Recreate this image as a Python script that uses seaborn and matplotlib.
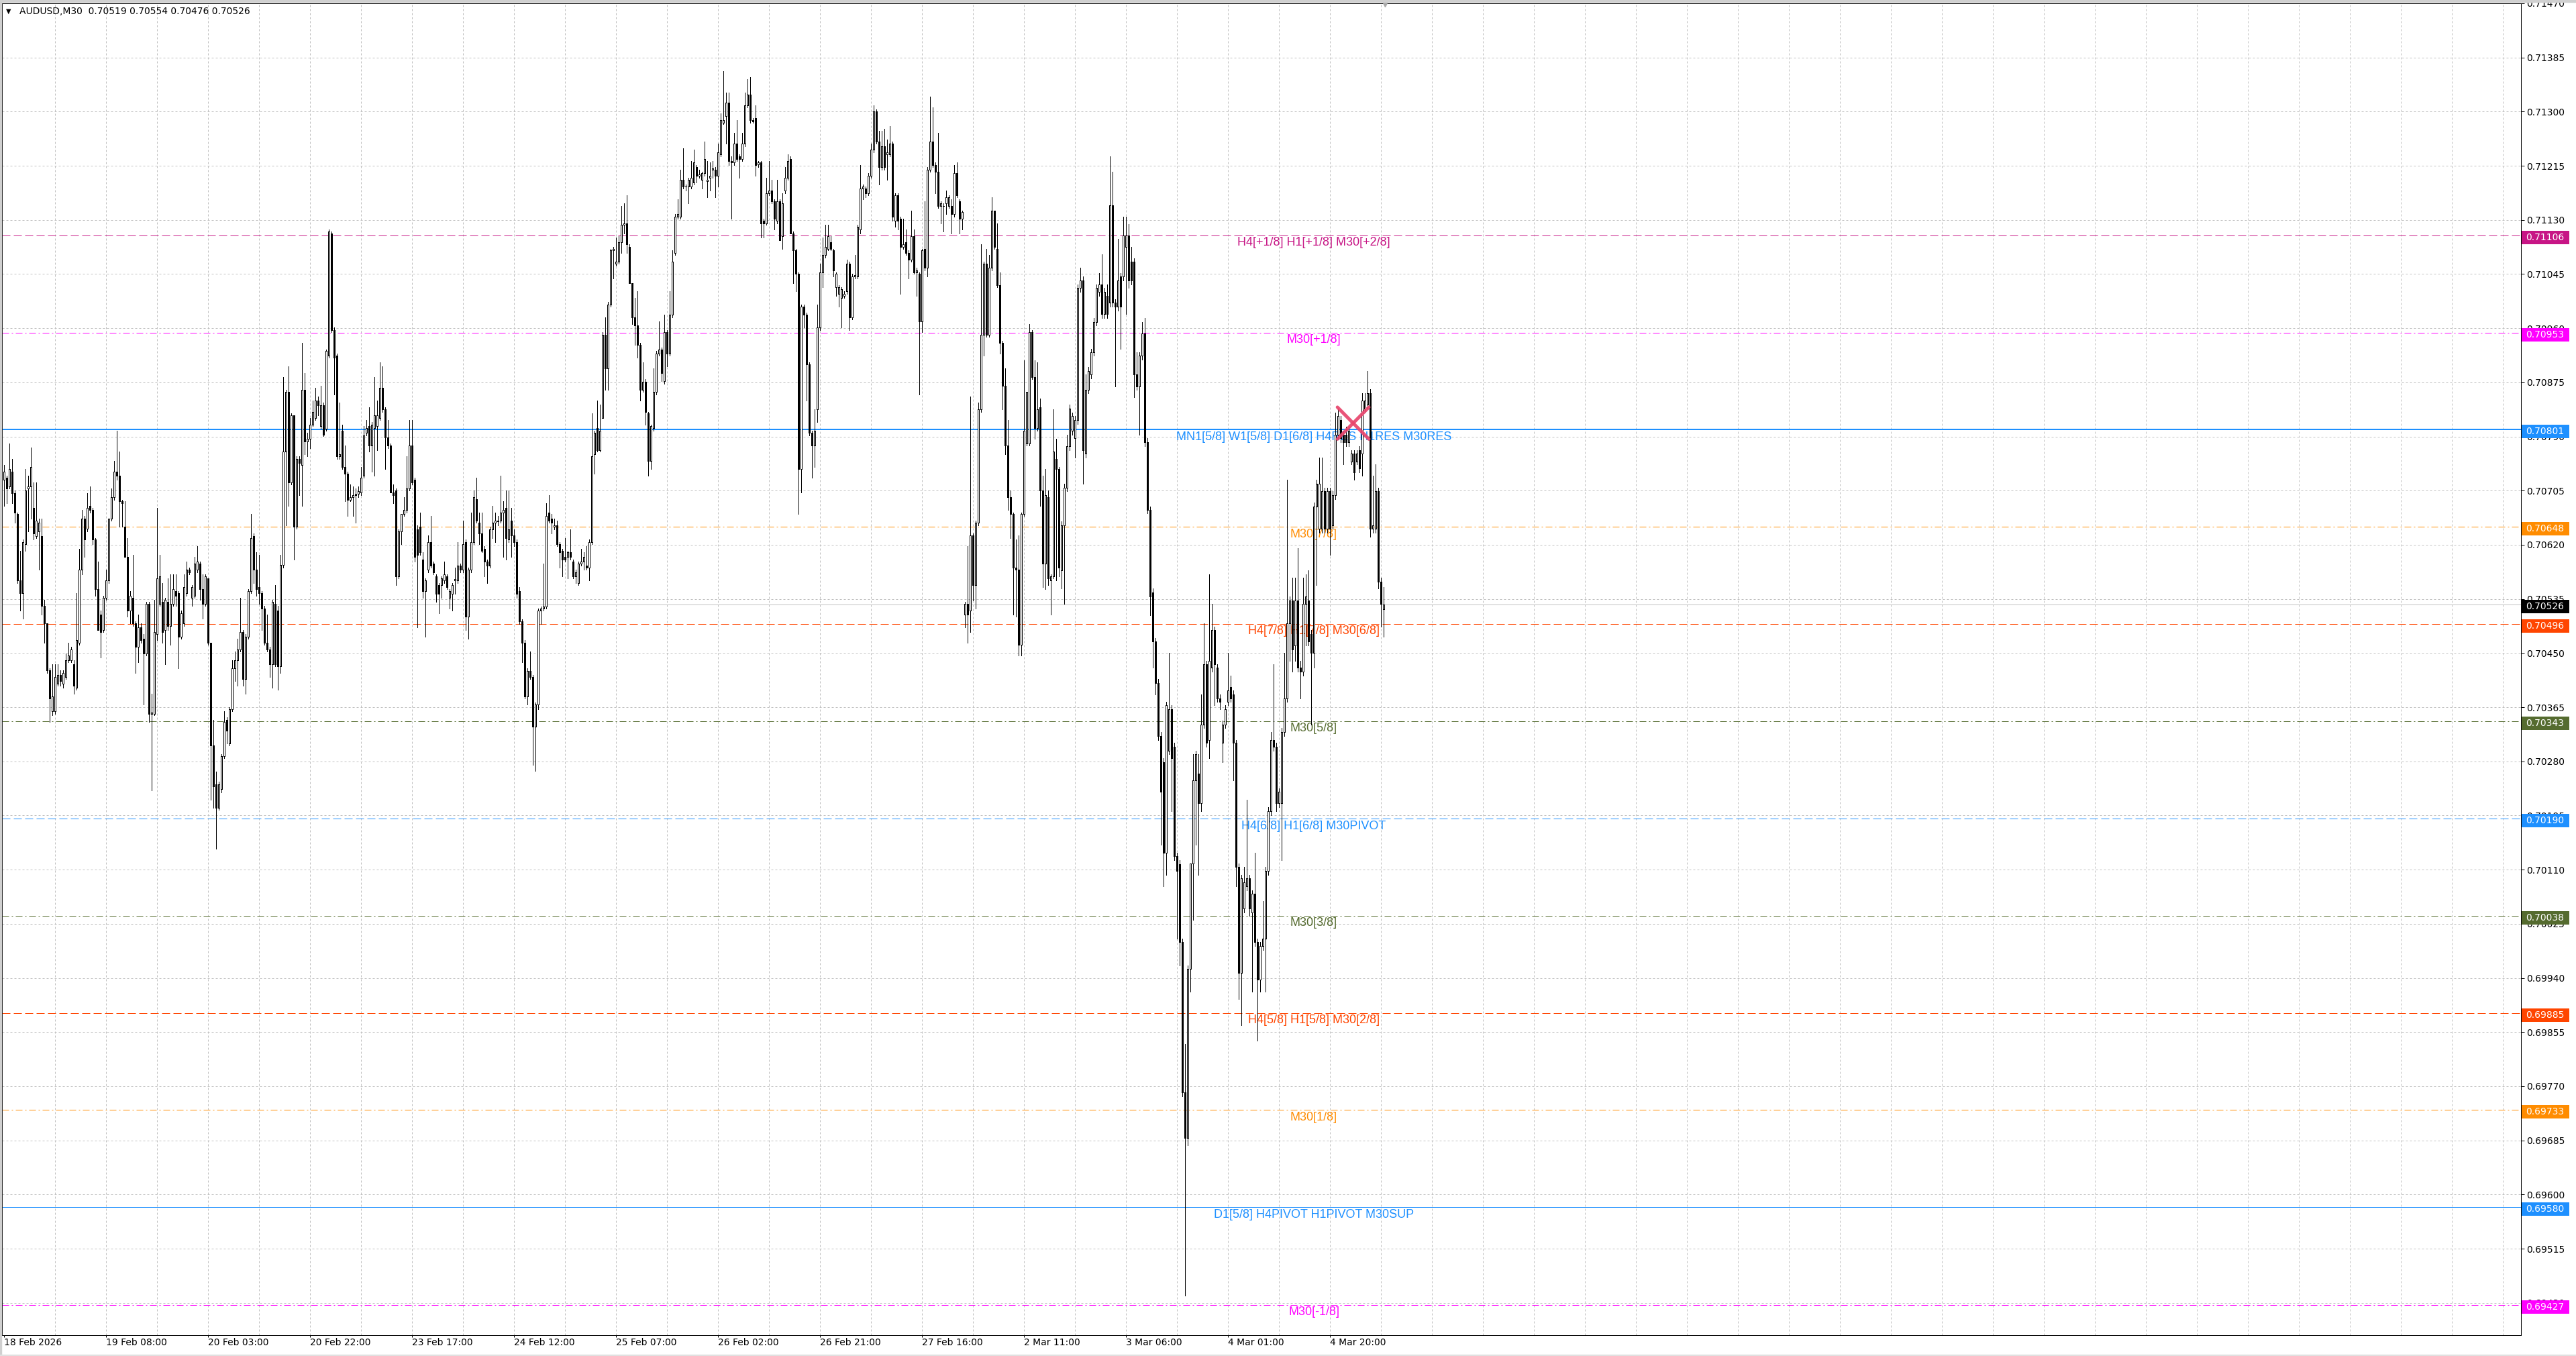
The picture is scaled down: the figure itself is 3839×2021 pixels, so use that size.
import numpy as np
import pandas as pd
import matplotlib
matplotlib.use("Agg")
import matplotlib.pyplot as plt
import matplotlib.transforms as mtransforms
from matplotlib.patches import Rectangle
import seaborn as sns

sns.set_theme(style="white")
plt.rcParams["font.family"] = ["DejaVu Sans"]

header = "AUDUSD,M30  0.70519 0.70554 0.70476 0.70526"

# AUDUSD M30 candles, one entry per bar
opens = [
    0.70722, 0.70725, 0.70712, 0.70735, 0.70701, 0.70668, 0.70564, 0.70544, 0.70621, 0.70708,
    0.70712, 0.70678, 0.70634, 0.70641, 0.70634, 0.70524, 0.70497, 0.70423, 0.70359, 0.70359,
    0.70402, 0.70416, 0.70402, 0.70412, 0.70439, 0.70439, 0.70433, 0.70396, 0.70466, 0.70581,
    0.70661, 0.70645, 0.70681, 0.70675, 0.70628, 0.70550, 0.70510, 0.70486, 0.70537, 0.70564,
    0.70661, 0.70695, 0.70735, 0.70728, 0.70688, 0.70648, 0.70601, 0.70517, 0.70537, 0.70497,
    0.70460, 0.70490, 0.70473, 0.70449, 0.70527, 0.70355, 0.70355, 0.70480, 0.70527, 0.70530,
    0.70486, 0.70530, 0.70493, 0.70527, 0.70547, 0.70544, 0.70476, 0.70497, 0.70544, 0.70581,
    0.70537, 0.70540, 0.70581, 0.70591, 0.70550, 0.70527, 0.70567, 0.70466, 0.70305, 0.70244,
    0.70207, 0.70237, 0.70288, 0.70345, 0.70308, 0.70362, 0.70426, 0.70439, 0.70456, 0.70483,
    0.70409, 0.70476, 0.70547, 0.70634, 0.70581, 0.70554, 0.70544, 0.70520, 0.70466, 0.70456,
    0.70433, 0.70527, 0.70517, 0.70429, 0.70588, 0.70766, 0.70860, 0.70718, 0.70823, 0.70648,
    0.70755, 0.70745, 0.70863, 0.70782, 0.70786, 0.70809, 0.70819, 0.70846, 0.70806, 0.70839,
    0.70802, 0.70917, 0.71109, 0.70957, 0.70917, 0.70759, 0.70799, 0.70742, 0.70732, 0.70691,
    0.70695, 0.70698, 0.70700, 0.70702,
    0.70729, 0.70796, 0.70806, 0.70776, 0.70803, 0.70806, 0.70819, 0.70866, 0.70833, 0.70789,
    0.70776, 0.70702, 0.70705, 0.70570, 0.70641, 0.70668, 0.70675, 0.70708, 0.70776, 0.70722,
    0.70644, 0.70648, 0.70597, 0.70547, 0.70581, 0.70624, 0.70591, 0.70570, 0.70557, 0.70557,
    0.70564, 0.70570, 0.70537, 0.70543, 0.70564, 0.70564, 0.70587, 0.70581, 0.70624, 0.70507,
    0.70581, 0.70624, 0.70692, 0.70655, 0.70638, 0.70614, 0.70594, 0.70587, 0.70644, 0.70655,
    0.70657, 0.70658, 0.70671, 0.70678, 0.70628, 0.70658, 0.70635, 0.70624, 0.70547, 0.70500,
    0.70466, 0.70382, 0.70422, 0.70412, 0.70335, 0.70369, 0.70517, 0.70520, 0.70523, 0.70671,
    0.70661, 0.70648, 0.70651, 0.70621, 0.70611, 0.70601, 0.70601, 0.70608, 0.70594, 0.70570,
    0.70560, 0.70591, 0.70594, 0.70587, 0.70584, 0.70624, 0.70762, 0.70803, 0.70769, 0.70819,
    0.70950, 0.70897, 0.70997, 0.71082, 0.71061, 0.71065, 0.71095, 0.71122, 0.71125, 0.71088,
    0.71031, 0.70977, 0.70964, 0.70934, 0.70863, 0.70876, 0.70826, 0.70752, 0.70803, 0.70860,
    0.70920, 0.70927, 0.70877, 0.70954, 0.70920, 0.70981, 0.71078, 0.71135, 0.71135, 0.71193,
    0.71182,
    0.71182, 0.71182, 0.71189, 0.71213, 0.71199, 0.71193, 0.71203, 0.71191, 0.71196, 0.71209,
    0.71209, 0.71199, 0.71233, 0.71283, 0.71293, 0.71314, 0.71223, 0.71220, 0.71250, 0.71230,
    0.71226, 0.71250, 0.71310, 0.71327, 0.71287, 0.71290, 0.71217, 0.71220, 0.71129, 0.71125,
    0.71172, 0.71176, 0.71159, 0.71129, 0.71159, 0.71105, 0.71176, 0.71196, 0.71226, 0.71109,
    0.71082, 0.71045, 0.70739, 0.70994, 0.70981, 0.70903, 0.70796, 0.70776, 0.70833, 0.70961,
    0.71048, 0.71075, 0.71085, 0.71095, 0.71082, 0.71024, 0.71014, 0.71008, 0.71011, 0.71018,
    0.71061, 0.70977, 0.71041, 0.71041, 0.71115, 0.71179, 0.71179, 0.71172, 0.71199, 0.71240,
    0.71300, 0.71253, 0.71213, 0.71246, 0.71233, 0.71233, 0.71250, 0.71129, 0.71169, 0.71132,
    0.71088, 0.71095, 0.71078, 0.71068, 0.71105, 0.71048, 0.71045, 0.70971, 0.71085, 0.71055,
    0.71209, 0.71253, 0.71216, 0.71206, 0.71152,
    0.71152,
    0.71156, 0.71152, 0.71152, 0.71139, 0.71203, 0.71159, 0.71132, 0.70510, 0.70527, 0.70517,
    0.70635, 0.70557, 0.70655, 0.70833, 0.70950, 0.71061, 0.70950, 0.71055, 0.71145, 0.71085,
    0.71028, 0.70937, 0.70870, 0.70776, 0.70695, 0.70668, 0.70584, 0.70581, 0.70463, 0.70668,
    0.70779, 0.70779, 0.70954, 0.70883, 0.70803, 0.70836, 0.70705, 0.70591, 0.70695, 0.70564,
    0.70570, 0.70755, 0.70739, 0.70580, 0.70651, 0.70710, 0.70775, 0.70799, 0.70787, 0.70816,
    0.71023, 0.71035, 0.70763, 0.70863, 0.70887, 0.70922, 0.70970, 0.71017, 0.71029, 0.70982,
    0.71011, 0.71000, 0.71153, 0.71000, 0.70994, 0.71041, 0.71041, 0.71088, 0.71106, 0.71064,
    0.71064, 0.70887, 0.70869, 0.70917, 0.70952, 0.70781, 0.70675, 0.70545, 0.70468, 0.70403,
    0.70320, 0.70279, 0.70137, 0.70297, 0.70362, 0.70303, 0.70131, 0.70119, 0.69996, 0.69760,
    0.69689, 0.69954, 0.70120, 0.70250, 0.70261, 0.70214, 0.70338, 0.70432, 0.70314, 0.70427,
    0.70486, 0.70427, 0.70379, 0.70309, 0.70338, 0.70374, 0.70397, 0.70385, 0.70309, 0.70114,
    0.69948, 0.70049, 0.70084, 0.70096, 0.70043, 0.70072, 0.69996, 0.69937, 0.69990, 0.70002,
    0.70108, 0.70202, 0.70314, 0.70303, 0.70214, 0.70214, 0.70326, 0.70379, 0.70497, 0.70533,
    0.70462, 0.70533, 0.70427, 0.70421, 0.70527, 0.70533, 0.70480, 0.70450, 0.70680, 0.70645,
    0.70645, 0.70704, 0.70645, 0.70704, 0.70651, 0.70698, 0.70793, 0.70816, 0.70793, 0.70793,
    0.70781, 0.70751, 0.70763, 0.70751, 0.70769, 0.70763, 0.70834, 0.70840, 0.70858, 0.70645,
    0.70645, 0.70704, 0.70562, 0.70519,
]

highs = [
    0.70745, 0.70728, 0.70779, 0.70755, 0.70705, 0.70671, 0.70611, 0.70628, 0.70739, 0.70728,
    0.70773, 0.70718, 0.70718, 0.70661, 0.70661, 0.70534, 0.70497, 0.70426, 0.70433, 0.70433,
    0.70433, 0.70423, 0.70423, 0.70449, 0.70466, 0.70460, 0.70439, 0.70544, 0.70614, 0.70675,
    0.70665, 0.70701, 0.70712, 0.70678, 0.70631, 0.70594, 0.70517, 0.70540, 0.70581, 0.70661,
    0.70708, 0.70752, 0.70799, 0.70766, 0.70691, 0.70688, 0.70631, 0.70547, 0.70604, 0.70500,
    0.70510, 0.70497, 0.70480, 0.70530, 0.70530, 0.70386, 0.70534, 0.70678, 0.70604, 0.70560,
    0.70537, 0.70567, 0.70574, 0.70574, 0.70574, 0.70547, 0.70517, 0.70574, 0.70594, 0.70584,
    0.70557, 0.70601, 0.70618, 0.70594, 0.70574, 0.70574, 0.70567, 0.70466, 0.70345, 0.70264,
    0.70248, 0.70291, 0.70359, 0.70349, 0.70365, 0.70439, 0.70453, 0.70473, 0.70537, 0.70486,
    0.70480, 0.70550, 0.70668, 0.70638, 0.70608, 0.70604, 0.70547, 0.70524, 0.70510, 0.70460,
    0.70534, 0.70557, 0.70524, 0.70604, 0.70883, 0.70863, 0.70900, 0.70826, 0.70823, 0.70759,
    0.70759, 0.70937, 0.70890, 0.70796, 0.70819, 0.70846, 0.70866, 0.70853, 0.70870, 0.70843,
    0.70927, 0.71115, 0.71112, 0.70961, 0.70920, 0.70843, 0.70809, 0.70776, 0.70735, 0.70715,
    0.70712, 0.70708, 0.70712, 0.70742,
    0.70806, 0.70816, 0.70836, 0.70813, 0.70883, 0.70846, 0.70907, 0.70900, 0.70836, 0.70816,
    0.70779, 0.70715, 0.70708, 0.70644, 0.70668, 0.70695, 0.70759, 0.70816, 0.70816, 0.70725,
    0.70651, 0.70671, 0.70608, 0.70567, 0.70635, 0.70665, 0.70594, 0.70574, 0.70560, 0.70570,
    0.70594, 0.70574, 0.70550, 0.70560, 0.70584, 0.70624, 0.70591, 0.70658, 0.70628, 0.70584,
    0.70671, 0.70705, 0.70725, 0.70671, 0.70671, 0.70618, 0.70597, 0.70648, 0.70681, 0.70671,
    0.70665, 0.70729, 0.70688, 0.70705, 0.70705, 0.70678, 0.70644, 0.70628, 0.70554, 0.70503,
    0.70470, 0.70426, 0.70453, 0.70416, 0.70372, 0.70520, 0.70523, 0.70591, 0.70685, 0.70698,
    0.70668, 0.70661, 0.70658, 0.70624, 0.70614, 0.70631, 0.70611, 0.70644, 0.70597, 0.70581,
    0.70594, 0.70614, 0.70608, 0.70618, 0.70628, 0.70826, 0.70799, 0.70846, 0.70840, 0.70954,
    0.70977, 0.71001, 0.71085, 0.71088, 0.71102, 0.71105, 0.71152, 0.71156, 0.71169, 0.71092,
    0.71031, 0.71008, 0.71018, 0.70937, 0.70907, 0.70880, 0.70829, 0.70809, 0.70897, 0.70924,
    0.70971, 0.70930, 0.70981, 0.70957, 0.71018, 0.71082, 0.71139, 0.71162, 0.71209, 0.71243,
    0.71186,
    0.71196, 0.71223, 0.71240, 0.71216, 0.71209, 0.71206, 0.71253, 0.71223, 0.71220, 0.71223,
    0.71213, 0.71250, 0.71297, 0.71364, 0.71330, 0.71330, 0.71230, 0.71267, 0.71287, 0.71233,
    0.71267, 0.71330, 0.71351, 0.71354, 0.71290, 0.71310, 0.71223, 0.71223, 0.71132, 0.71196,
    0.71223, 0.71193, 0.71162, 0.71193, 0.71162, 0.71172, 0.71213, 0.71233, 0.71230, 0.71112,
    0.71085, 0.71048, 0.70997, 0.70997, 0.70984, 0.70907, 0.70799, 0.70833, 0.70997, 0.71061,
    0.71102, 0.71122, 0.71122, 0.71105, 0.71085, 0.71048, 0.71028, 0.71024, 0.71018, 0.71068,
    0.71065, 0.71045, 0.71075, 0.71122, 0.71216, 0.71186, 0.71182, 0.71203, 0.71250, 0.71310,
    0.71304, 0.71270, 0.71270, 0.71273, 0.71256, 0.71277, 0.71253, 0.71172, 0.71172, 0.71135,
    0.71132, 0.71115, 0.71082, 0.71145, 0.71115, 0.71055, 0.71048, 0.71085, 0.71159, 0.71213,
    0.71324, 0.71307, 0.71220, 0.71267, 0.71159,
    0.71156,
    0.71176, 0.71169, 0.71162, 0.71216, 0.71220, 0.71162, 0.71145, 0.70530, 0.70618, 0.70853,
    0.70638, 0.70658, 0.70843, 0.71092, 0.71065, 0.71085, 0.71075, 0.71166, 0.71145, 0.71125,
    0.71048, 0.70940, 0.70897, 0.70816, 0.70705, 0.70671, 0.70628, 0.70635, 0.70671, 0.70910,
    0.70860, 0.70967, 0.70957, 0.70910, 0.70907, 0.70850, 0.70729, 0.70739, 0.70705, 0.70574,
    0.70833, 0.70786, 0.70742, 0.70657, 0.70716, 0.70793, 0.70840, 0.70828, 0.70822, 0.71029,
    0.71055, 0.71041, 0.70887, 0.70899, 0.70928, 0.70976, 0.71029, 0.71047, 0.71076, 0.71023,
    0.71029, 0.71230, 0.71206, 0.71005, 0.71100, 0.71047, 0.71135, 0.71135, 0.71123, 0.71088,
    0.71070, 0.70922, 0.70922, 0.70970, 0.70976, 0.70787, 0.70680, 0.70551, 0.70474, 0.70409,
    0.70326, 0.70285, 0.70374, 0.70450, 0.70368, 0.70309, 0.70137, 0.70125, 0.70002, 0.69836,
    0.69960, 0.70120, 0.70291, 0.70297, 0.70291, 0.70385, 0.70497, 0.70438, 0.70574, 0.70527,
    0.70491, 0.70432, 0.70385, 0.70344, 0.70368, 0.70450, 0.70415, 0.70391, 0.70314, 0.70120,
    0.70102, 0.70114, 0.70220, 0.70102, 0.70078, 0.70137, 0.70002, 0.69996, 0.70061, 0.70114,
    0.70208, 0.70326, 0.70432, 0.70309, 0.70238, 0.70332, 0.70450, 0.70722, 0.70539, 0.70568,
    0.70568, 0.70615, 0.70438, 0.70568, 0.70574, 0.70580, 0.70486, 0.70686, 0.70722, 0.70757,
    0.70757, 0.70710, 0.70710, 0.70710, 0.70704, 0.70828, 0.70834, 0.70822, 0.70799, 0.70805,
    0.70805, 0.70769, 0.70769, 0.70769, 0.70775, 0.70858, 0.70858, 0.70893, 0.70864, 0.70728,
    0.70746, 0.70710, 0.70568, 0.70554,
]

lows = [
    0.70681, 0.70685, 0.70708, 0.70685, 0.70655, 0.70560, 0.70517, 0.70504, 0.70611, 0.70641,
    0.70661, 0.70628, 0.70631, 0.70581, 0.70510, 0.70466, 0.70419, 0.70342, 0.70352, 0.70355,
    0.70399, 0.70399, 0.70396, 0.70409, 0.70436, 0.70436, 0.70386, 0.70392, 0.70463, 0.70574,
    0.70601, 0.70641, 0.70671, 0.70621, 0.70540, 0.70486, 0.70443, 0.70483, 0.70534, 0.70560,
    0.70658, 0.70691, 0.70722, 0.70648, 0.70648, 0.70601, 0.70507, 0.70497, 0.70493, 0.70419,
    0.70436, 0.70466, 0.70369, 0.70446, 0.70342, 0.70234, 0.70352, 0.70470, 0.70524, 0.70466,
    0.70433, 0.70486, 0.70463, 0.70524, 0.70524, 0.70426, 0.70473, 0.70493, 0.70540, 0.70574,
    0.70524, 0.70537, 0.70577, 0.70534, 0.70504, 0.70524, 0.70463, 0.70220, 0.70207, 0.70143,
    0.70204, 0.70231, 0.70285, 0.70308, 0.70305, 0.70359, 0.70406, 0.70399, 0.70453, 0.70399,
    0.70386, 0.70473, 0.70544, 0.70560, 0.70540, 0.70527, 0.70486, 0.70463, 0.70453, 0.70412,
    0.70396, 0.70429, 0.70392, 0.70419, 0.70584, 0.70651, 0.70681, 0.70715, 0.70597, 0.70645,
    0.70698, 0.70681, 0.70762, 0.70759, 0.70772, 0.70806, 0.70816, 0.70823, 0.70802, 0.70791,
    0.70799, 0.70914, 0.70954, 0.70856, 0.70755, 0.70755, 0.70739, 0.70688, 0.70665, 0.70688,
    0.70665, 0.70655, 0.70695, 0.70698,
    0.70725, 0.70792, 0.70766, 0.70735, 0.70729, 0.70769, 0.70816, 0.70829, 0.70739, 0.70772,
    0.70702, 0.70685, 0.70557, 0.70567, 0.70621, 0.70665, 0.70671, 0.70705, 0.70715, 0.70594,
    0.70490, 0.70604, 0.70537, 0.70476, 0.70577, 0.70584, 0.70574, 0.70530, 0.70513, 0.70537,
    0.70560, 0.70550, 0.70520, 0.70517, 0.70543, 0.70560, 0.70577, 0.70577, 0.70486, 0.70473,
    0.70577, 0.70621, 0.70655, 0.70621, 0.70608, 0.70570, 0.70560, 0.70584, 0.70631, 0.70624,
    0.70651, 0.70655, 0.70601, 0.70597, 0.70624, 0.70601, 0.70618, 0.70537, 0.70496, 0.70436,
    0.70379, 0.70369, 0.70409, 0.70275, 0.70265, 0.70362, 0.70496, 0.70517, 0.70520, 0.70655,
    0.70638, 0.70644, 0.70618, 0.70584, 0.70570, 0.70594, 0.70567, 0.70597, 0.70567, 0.70560,
    0.70557, 0.70587, 0.70581, 0.70581, 0.70564, 0.70621, 0.70732, 0.70766, 0.70766, 0.70819,
    0.70863, 0.70863, 0.70994, 0.71038, 0.71058, 0.71061, 0.71078, 0.71109, 0.71078, 0.71031,
    0.70967, 0.70934, 0.70914, 0.70846, 0.70860, 0.70809, 0.70729, 0.70739, 0.70799, 0.70856,
    0.70917, 0.70877, 0.70873, 0.70900, 0.70917, 0.70977, 0.71075, 0.71132, 0.71132, 0.71179,
    0.71176,
    0.71156, 0.71179, 0.71186, 0.71189, 0.71196, 0.71179, 0.71199, 0.71166, 0.71176, 0.71196,
    0.71166, 0.71182, 0.71230, 0.71280, 0.71250, 0.71216, 0.71132, 0.71216, 0.71223, 0.71196,
    0.71223, 0.71246, 0.71307, 0.71283, 0.71283, 0.71199, 0.71213, 0.71102, 0.71102, 0.71122,
    0.71169, 0.71156, 0.71115, 0.71125, 0.71098, 0.71085, 0.71172, 0.71193, 0.71109, 0.71031,
    0.71018, 0.70668, 0.70702, 0.70961, 0.70846, 0.70792, 0.70725, 0.70742, 0.70813, 0.70957,
    0.71024, 0.71071, 0.71082, 0.71082, 0.71041, 0.71011, 0.70994, 0.70961, 0.71008, 0.71014,
    0.70957, 0.70974, 0.71038, 0.71038, 0.71109, 0.71162, 0.71166, 0.71169, 0.71196, 0.71236,
    0.71250, 0.71186, 0.71209, 0.71209, 0.71193, 0.71230, 0.71129, 0.71119, 0.71115, 0.71014,
    0.71085, 0.71075, 0.71038, 0.71065, 0.71045, 0.71011, 0.70856, 0.70954, 0.71051, 0.71041,
    0.71206, 0.71213, 0.71172, 0.71149, 0.71125,
    0.71112,
    0.71139, 0.71149, 0.71109, 0.71135, 0.71166, 0.71109, 0.71115, 0.70490, 0.70466, 0.70483,
    0.70533, 0.70520, 0.70651, 0.70829, 0.70917, 0.70947, 0.70947, 0.71051, 0.71085, 0.71024,
    0.70920, 0.70833, 0.70762, 0.70675, 0.70631, 0.70510, 0.70507, 0.70446, 0.70446, 0.70665,
    0.70776, 0.70776, 0.70880, 0.70786, 0.70799, 0.70681, 0.70554, 0.70550, 0.70557, 0.70510,
    0.70567, 0.70564, 0.70570, 0.70551, 0.70527, 0.70704, 0.70769, 0.70793, 0.70757, 0.70810,
    0.71017, 0.70716, 0.70757, 0.70858, 0.70881, 0.70917, 0.70964, 0.71011, 0.70976, 0.70976,
    0.70976, 0.70994, 0.70994, 0.70869, 0.70988, 0.70928, 0.71035, 0.70982, 0.71023, 0.71029,
    0.70852, 0.70863, 0.70793, 0.70911, 0.70775, 0.70669, 0.70509, 0.70427, 0.70385, 0.70314,
    0.70149, 0.70084, 0.70102, 0.70291, 0.70202, 0.70125, 0.70002, 0.69960, 0.69754, 0.69441,
    0.69677, 0.69919, 0.70031, 0.70149, 0.70102, 0.70202, 0.70332, 0.70303, 0.70285, 0.70421,
    0.70368, 0.70374, 0.70362, 0.70279, 0.70332, 0.70368, 0.70374, 0.70250, 0.70084, 0.69907,
    0.69866, 0.70043, 0.70078, 0.70037, 0.69919, 0.69990, 0.69842, 0.69919, 0.69984, 0.69919,
    0.70102, 0.70196, 0.70297, 0.70202, 0.70208, 0.70125, 0.70320, 0.70374, 0.70438, 0.70421,
    0.70438, 0.70421, 0.70379, 0.70415, 0.70462, 0.70462, 0.70338, 0.70427, 0.70557, 0.70639,
    0.70639, 0.70639, 0.70639, 0.70604, 0.70645, 0.70692, 0.70787, 0.70781, 0.70746, 0.70775,
    0.70775, 0.70746, 0.70722, 0.70746, 0.70734, 0.70728, 0.70828, 0.70834, 0.70633, 0.70639,
    0.70639, 0.70551, 0.70492, 0.70476,
]

closes = [
    0.70735, 0.70708, 0.70739, 0.70701, 0.70671, 0.70564, 0.70544, 0.70624, 0.70705, 0.70712,
    0.70742, 0.70638, 0.70658, 0.70655, 0.70524, 0.70497, 0.70423, 0.70379, 0.70382, 0.70412,
    0.70416, 0.70406, 0.70419, 0.70439, 0.70446, 0.70456, 0.70399, 0.70470, 0.70581, 0.70661,
    0.70628, 0.70678, 0.70675, 0.70628, 0.70550, 0.70486, 0.70483, 0.70537, 0.70564, 0.70661,
    0.70695, 0.70735, 0.70728, 0.70688, 0.70685, 0.70601, 0.70517, 0.70540, 0.70497, 0.70460,
    0.70490, 0.70470, 0.70449, 0.70527, 0.70355, 0.70357, 0.70483, 0.70567, 0.70571, 0.70483,
    0.70534, 0.70493, 0.70527, 0.70550, 0.70540, 0.70476, 0.70513, 0.70554, 0.70581, 0.70577,
    0.70554, 0.70591, 0.70594, 0.70550, 0.70527, 0.70571, 0.70466, 0.70305, 0.70241, 0.70207,
    0.70244, 0.70288, 0.70342, 0.70328, 0.70362, 0.70426, 0.70439, 0.70456, 0.70483, 0.70409,
    0.70476, 0.70547, 0.70631, 0.70581, 0.70550, 0.70544, 0.70520, 0.70466, 0.70456, 0.70433,
    0.70530, 0.70433, 0.70429, 0.70588, 0.70766, 0.70860, 0.70718, 0.70823, 0.70648, 0.70755,
    0.70749, 0.70863, 0.70782, 0.70786, 0.70809, 0.70829, 0.70846, 0.70839, 0.70839, 0.70793,
    0.70924, 0.71112, 0.70957, 0.70914, 0.70759, 0.70762, 0.70742, 0.70732, 0.70691, 0.70695,
    0.70698, 0.70700, 0.70704, 0.70725,
    0.70792, 0.70803, 0.70776, 0.70809, 0.70823, 0.70823, 0.70866, 0.70833, 0.70789, 0.70776,
    0.70702, 0.70698, 0.70570, 0.70641, 0.70668, 0.70675, 0.70708, 0.70776, 0.70718, 0.70601,
    0.70604, 0.70608, 0.70547, 0.70564, 0.70624, 0.70587, 0.70577, 0.70543, 0.70543, 0.70567,
    0.70574, 0.70554, 0.70547, 0.70557, 0.70566, 0.70587, 0.70581, 0.70621, 0.70507, 0.70581,
    0.70624, 0.70695, 0.70658, 0.70638, 0.70611, 0.70594, 0.70587, 0.70644, 0.70655, 0.70658,
    0.70658, 0.70671, 0.70675, 0.70631, 0.70644, 0.70635, 0.70624, 0.70543, 0.70500, 0.70466,
    0.70382, 0.70422, 0.70412, 0.70335, 0.70369, 0.70517, 0.70520, 0.70523, 0.70665, 0.70658,
    0.70655, 0.70651, 0.70621, 0.70608, 0.70597, 0.70597, 0.70608, 0.70601, 0.70570, 0.70577,
    0.70591, 0.70594, 0.70601, 0.70584, 0.70624, 0.70759, 0.70796, 0.70769, 0.70799, 0.70950,
    0.70897, 0.70997, 0.71082, 0.71085, 0.71065, 0.71095, 0.71122, 0.71125, 0.71092, 0.71031,
    0.70977, 0.70964, 0.70934, 0.70863, 0.70876, 0.70829, 0.70752, 0.70806, 0.70860, 0.70920,
    0.70927, 0.70890, 0.70954, 0.70920, 0.70981, 0.71065, 0.71135, 0.71139, 0.71193, 0.71182,
    0.71182,
    0.71193, 0.71196, 0.71220, 0.71199, 0.71201, 0.71203, 0.71226, 0.71193, 0.71199, 0.71211,
    0.71199, 0.71236, 0.71287, 0.71287, 0.71314, 0.71223, 0.71220, 0.71250, 0.71226, 0.71226,
    0.71250, 0.71310, 0.71327, 0.71287, 0.71285, 0.71216, 0.71220, 0.71125, 0.71125, 0.71172,
    0.71176, 0.71159, 0.71132, 0.71159, 0.71098, 0.71156, 0.71196, 0.71223, 0.71109, 0.71082,
    0.71045, 0.70739, 0.70994, 0.70981, 0.70903, 0.70796, 0.70776, 0.70799, 0.70961, 0.71048,
    0.71075, 0.71088, 0.71105, 0.71085, 0.71051, 0.71045, 0.71024, 0.71021, 0.71014, 0.71061,
    0.70977, 0.71041, 0.71043, 0.71119, 0.71179, 0.71182, 0.71172, 0.71199, 0.71240, 0.71300,
    0.71253, 0.71213, 0.71246, 0.71213, 0.71236, 0.71250, 0.71135, 0.71169, 0.71129, 0.71088,
    0.71092, 0.71078, 0.71068, 0.71105, 0.71048, 0.71051, 0.70971, 0.71082, 0.71055, 0.71209,
    0.71253, 0.71216, 0.71206, 0.71152, 0.71156,
    0.71152,
    0.71166, 0.71166, 0.71139, 0.71203, 0.71169, 0.71132, 0.71142, 0.70527, 0.70510, 0.70635,
    0.70557, 0.70655, 0.70833, 0.70950, 0.71061, 0.70950, 0.71055, 0.71145, 0.71088, 0.71028,
    0.70937, 0.70870, 0.70776, 0.70695, 0.70668, 0.70584, 0.70581, 0.70463, 0.70668, 0.70799,
    0.70860, 0.70954, 0.70883, 0.70803, 0.70833, 0.70705, 0.70591, 0.70698, 0.70567, 0.70570,
    0.70766, 0.70739, 0.70584, 0.70651, 0.70710, 0.70775, 0.70834, 0.70822, 0.70816, 0.71023,
    0.71035, 0.70769, 0.70863, 0.70893, 0.70922, 0.70970, 0.71023, 0.71029, 0.70982, 0.71017,
    0.70982, 0.71153, 0.71000, 0.70994, 0.71035, 0.70994, 0.71106, 0.71106, 0.71035, 0.71035,
    0.70887, 0.70869, 0.70917, 0.70952, 0.70781, 0.70675, 0.70539, 0.70468, 0.70403, 0.70320,
    0.70232, 0.70137, 0.70368, 0.70362, 0.70285, 0.70131, 0.70108, 0.69996, 0.69760, 0.69689,
    0.69954, 0.70120, 0.70250, 0.70291, 0.70214, 0.70338, 0.70432, 0.70309, 0.70438, 0.70486,
    0.70432, 0.70379, 0.70374, 0.70338, 0.70362, 0.70391, 0.70379, 0.70309, 0.70114, 0.69948,
    0.70096, 0.70090, 0.70096, 0.70049, 0.70072, 0.69996, 0.69937, 0.69990, 0.70002, 0.70108,
    0.70202, 0.70314, 0.70303, 0.70214, 0.70232, 0.70326, 0.70379, 0.70497, 0.70533, 0.70456,
    0.70533, 0.70427, 0.70421, 0.70527, 0.70539, 0.70468, 0.70450, 0.70680, 0.70716, 0.70716,
    0.70704, 0.70645, 0.70704, 0.70645, 0.70698, 0.70793, 0.70822, 0.70787, 0.70781, 0.70781,
    0.70799, 0.70763, 0.70734, 0.70763, 0.70740, 0.70846, 0.70846, 0.70858, 0.70645, 0.70651,
    0.70704, 0.70562, 0.70527, 0.70526,
]

time_labels = ["18 Feb 2026", "19 Feb 08:00", "20 Feb 03:00", "20 Feb 22:00", "23 Feb 17:00",
               "24 Feb 12:00", "25 Feb 07:00", "26 Feb 02:00", "26 Feb 21:00", "27 Feb 16:00",
               "2 Mar 11:00", "3 Mar 06:00", "4 Mar 01:00", "4 Mar 20:00"]
bars_per_label = 38
bars_per_grid = 19

price_ticks = [0.71470, 0.71385, 0.71300, 0.71215, 0.71130, 0.71045, 0.70960, 0.70875,
               0.70790, 0.70705, 0.70620, 0.70535, 0.70450, 0.70365, 0.70280, 0.70195,
               0.70110, 0.70025, 0.69940, 0.69855, 0.69770, 0.69685, 0.69600, 0.69515, 0.69430]

level_prices = [0.71106, 0.70953, 0.70801, 0.70648, 0.70496, 0.70343,
                0.70190, 0.70038, 0.69885, 0.69733, 0.69580, 0.69427]
level_names = ["H4[+1/8] H1[+1/8] M30[+2/8]", "M30[+1/8]",
               "MN1[5/8] W1[5/8] D1[6/8] H4RES H1RES M30RES", "M30[7/8]",
               "H4[7/8] H1[7/8] M30[6/8]", "M30[5/8]", "H4[6/8] H1[6/8] M30PIVOT",
               "M30[3/8]", "H4[5/8] H1[5/8] M30[2/8]", "M30[1/8]",
               "D1[5/8] H4PIVOT H1PIVOT M30SUP", "M30[-1/8]"]
level_colors = ["#c71585", "#ff00ff", "#1e90ff", "#ff8c00", "#ff4500", "#556b2f",
                "#1e90ff", "#556b2f", "#ff4500", "#ff8c00", "#1e90ff", "#ff00ff"]
level_kinds = ["dash", "dashdot", "solid", "dashdot", "dash", "dashdot",
               "dash", "dashdot", "dash", "dashdot", "solid", "dashdot"]
current_price = 0.70526

cross_bars = [496.9, 508.6]
cross_prices = [0.70786, 0.70836]

df = pd.DataFrame({"open": opens, "high": highs, "low": lows, "close": closes})
df["bar"] = np.arange(len(df))
df["up"] = df["close"] >= df["open"]

W, H, DPI = 3839, 2021, 100
PX = 72 / DPI
fig = plt.figure(figsize=(W / DPI, H / DPI), dpi=DPI, facecolor="white")
ax = fig.add_axes([3 / W, 31 / H, 3754 / W, 1985 / H])
ax.set_facecolor("white")
y_lo, y_hi = 0.693792, 0.71470
ax.set_xlim(-0.65, 937.85)
ax.set_ylim(y_lo, y_hi)
price_per_px = (y_hi - y_lo) / 1985

# grid
grid_kw = dict(color="#c0c0c0", lw=PX, ls=(0, (3, 3)), zorder=1)
for p in price_ticks:
    ax.axhline(p, **grid_kw)
for b in range(bars_per_grid, 938, bars_per_grid):
    ax.axvline(b, **grid_kw)

# murrey levels
dash_map = {"dash": (0, (12, 5)), "dashdot": (0, (10, 4, 2, 4)), "solid": "-"}
label_trans = mtransforms.offset_copy(ax.transData, fig=fig, x=0, y=-11, units="dots")
for p, name, c, kind in zip(level_prices, level_names, level_colors, level_kinds):
    lw = 2 * PX if (kind == "solid" and name.endswith("RES")) else PX
    ax.axhline(p, color=c, lw=lw, ls=dash_map[kind], zorder=2)
    ax.text(488.1, p, name, transform=label_trans, color=c, fontsize=13,
            family=["Liberation Sans", "DejaVu Sans"], ha="center", va="center", zorder=3)

ax.axhline(current_price, color="#c0c0c0", lw=PX, zorder=2.5)

# candles
ax.vlines(df["bar"], df["low"], df["high"], colors="black", lw=PX,
          antialiased=False, zorder=4)
body_low = np.minimum(df["open"], df["close"])
body_h = (df["close"] - df["open"]).abs()
ax.bar(df["bar"], body_h, bottom=body_low, width=0.5,
       color=np.where(df["up"], "white", "black"), edgecolor="black",
       linewidth=PX, antialiased=False, zorder=5)

# cross mark
ax.plot(cross_bars, cross_prices[::-1], color="#e8456c", lw=5 * PX,
        solid_capstyle="round", alpha=0.92, zorder=7)
ax.plot(cross_bars, cross_prices, color="#e8456c", lw=5 * PX,
        solid_capstyle="round", alpha=0.92, zorder=7)

# shift marker
ax.plot([len(df) - 0.4], [y_hi], marker="v", ms=7, color="#a8a8a8",
        clip_on=False, zorder=8)

# axes
for s in ax.spines.values():
    s.set_color("black")
    s.set_linewidth(PX)
    s.set_visible(True)

ax.yaxis.tick_right()
ax.set_yticks(price_ticks)
ax.set_yticklabels([f"{p:.5f}" for p in price_ticks])
ax.tick_params(axis="y", direction="out", length=5 * PX, width=PX, pad=2.2,
               labelsize=10, colors="black", right=True, left=False)

ax.set_xticks([i * bars_per_label for i in range(len(time_labels))])
ax.set_xticklabels(time_labels)
ax.tick_params(axis="x", direction="out", length=3 * PX, width=PX, pad=1,
               labelsize=10, colors="black", bottom=True)
for lbl in ax.get_xticklabels():
    lbl.set_ha("left")
ax.grid(False)

# price boxes on the scale
box_trans = mtransforms.blended_transform_factory(ax.transAxes, ax.transData)
box_x = (3764 - 3) / 3754
for p, c in zip(level_prices + [current_price], level_colors + ["black"]):
    yc = p - 3 * price_per_px
    ax.add_patch(Rectangle((1 + 1 / 3754, yc - 10 * price_per_px), 71 / 3754,
                           20 * price_per_px, transform=box_trans, fc=c, ec="none",
                           clip_on=False, zorder=19))
    ax.text(box_x, yc, f"{p:.5f}", transform=box_trans, ha="left", va="center",
            fontsize=10, color="white", clip_on=False, zorder=20)

# header
fig.text(9 / W, 1 - 17 / H, "\u25bc", fontsize=7, ha="left", va="center", color="black")
fig.text(29 / W, 1 - 17 / H, header, fontsize=10, ha="left", va="center", color="black")

# window frame
fig.patches.append(Rectangle((0, 1 - 3 / H), 1, 3 / H, transform=fig.transFigure,
                             color="#d0d0d0", zorder=0))
fig.patches.append(Rectangle((0, 0), 2 / W, 1, transform=fig.transFigure,
                             color="#d0d0d0", zorder=0))
fig.patches.append(Rectangle((0, 0), 1, 2 / H, transform=fig.transFigure,
                             color="#e0e0e0", zorder=0))

fig.savefig("out.png", dpi=DPI, facecolor="white")
